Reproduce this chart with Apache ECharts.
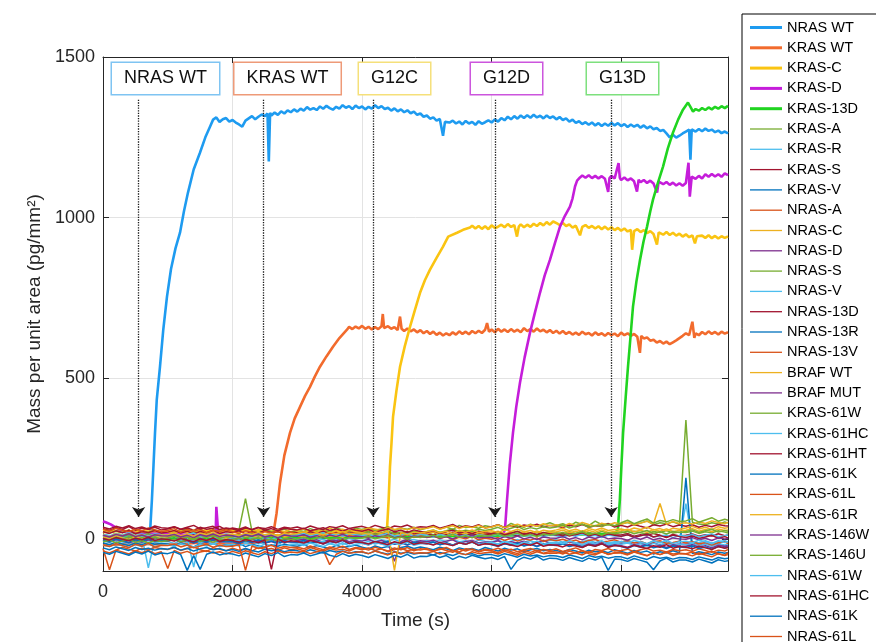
<!DOCTYPE html>
<html><head><meta charset="utf-8">
<script src="https://cdn.jsdelivr.net/npm/echarts@6/dist/echarts.min.js"></script>
<style>html,body{margin:0;padding:0;background:#fff}#c{width:876px;height:642px}</style>
</head><body><div id="c"></div><script>
// ---------------- DATA ----------------
const xTickValues = [0, 2000, 4000, 6000, 8000];
const yTickValues = [0, 500, 1000, 1500];

const mainNames = ['NRAS WT', 'KRAS WT', 'KRAS-C', 'KRAS-D', 'KRAS-13D'];

const nrasWT = [[0,12],[200,5],[400,8],[600,3],[700,6],[725,15],[755,121],[780,230],[803,330],[830,433],[880,536],[930,650],[988,754],[1050,840],[1120,905],[1189,953],[1250,1020],[1312,1078],[1400,1150],[1497,1202],[1580,1250],[1652,1283],
[1700,1305],[1750,1312],[1800,1298],[1850,1306],[1900,1310],[1950,1299],[2000,1304],[2050,1296],[2100,1290],[2150,1283],[2200,1302],[2250,1309],[2300,1316],[2350,1306],[2400,1314],[2450,1321],[2500,1316],[2540,1324],[2560,1175],[2580,1326],[2600,1318],[2650,1327],[2700,1320],[2750,1331],[2800,1324],[2850,1334],[2900,1328],[2950,1337],[3000,1330],[3050,1339],[3100,1333],[3150,1344],[3200,1336],[3250,1341],[3300,1335],[3350,1346],[3400,1339],[3450,1348],[3500,1341],[3550,1336],[3600,1345],[3650,1339],[3700,1350],[3750,1342],[3800,1347],[3850,1338],[3900,1349],[3950,1341],[4000,1346],[4050,1337],[4100,1345],[4150,1339],[4200,1350],[4250,1341],[4300,1347],[4350,1338],[4400,1342],[4450,1333],[4500,1340],[4550,1331],[4600,1337],[4650,1328],[4700,1334],[4750,1325],[4800,1330],[4850,1320],[4900,1324],[4950,1314],[5000,1318],[5050,1308],[5100,1312],[5150,1302],[5200,1307],[5250,1255],[5280,1298],[5300,1304],[5350,1296],[5400,1302],[5450,1293],[5500,1299],[5550,1290],[5600,1301],[5650,1293],[5700,1298],[5750,1289],[5800,1300],[5850,1292],[5900,1297],[5950,1303],[6000,1296],[6050,1306],[6100,1299],[6150,1310],[6200,1303],[6250,1314],[6300,1306],[6350,1316],[6400,1308],[6450,1318],[6500,1310],[6550,1319],[6600,1311],[6650,1320],[6700,1312],[6750,1317],[6800,1309],[6850,1318],[6900,1310],[6950,1315],[7000,1306],[7050,1313],[7100,1304],[7150,1309],[7200,1299],[7250,1305],[7300,1295],[7350,1300],[7400,1291],[7450,1297],[7500,1289],[7550,1296],[7600,1287],[7650,1294],[7700,1285],[7750,1293],[7800,1286],[7850,1295],[7900,1287],[7950,1294],[8000,1285],[8050,1291],[8100,1282],[8150,1290],[8200,1283],[8250,1289],[8300,1280],[8350,1287],[8400,1278],[8450,1284],[8500,1275],[8550,1279],[8600,1270],[8650,1273],[8700,1262],[8750,1250],[8800,1258],[8850,1249],[8900,1255],[8950,1262],[9000,1268],[9050,1274],[9070,1180],[9090,1275],[9150,1268],[9200,1276],[9250,1269],[9300,1277],[9350,1270],[9400,1274],[9450,1266],[9500,1271],[9550,1263],[9600,1268],[9650,1262]];

const krasWT = [[0,-20],[500,-15],[1000,-18],[1500,-12],[2000,-15],[2500,-10],[2600,-5],[2625,10],[2680,80],[2733,174],[2800,260],[2887,330],[2960,375],[3042,411],[3120,445],[3196,473],[3270,505],[3350,536],[3450,568],[3551,598],[3650,625],
[3767,651],[3800,660],[3850,653],[3900,661],[3950,655],[4000,663],[4050,654],[4100,660],[4150,652],[4200,659],[4250,653],[4300,662],[4320,700],[4340,656],[4400,662],[4450,654],[4500,659],[4550,650],[4586,692],[4610,654],[4650,647],[4700,655],[4750,646],[4800,652],[4850,643],[4900,650],[4950,640],[5000,647],[5050,638],[5100,645],[5150,635],[5200,642],[5250,633],[5300,640],[5350,634],[5400,643],[5450,636],[5500,646],[5550,638],[5600,645],[5650,637],[5700,647],[5750,640],[5800,648],[5850,641],[5900,651],[5930,672],[5960,645],[6000,652],[6050,643],[6100,654],[6150,645],[6200,652],[6250,644],[6300,653],[6350,645],[6400,651],[6450,643],[6500,656],[6550,647],[6600,653],[6650,645],[6700,655],[6750,646],[6800,651],[6850,643],[6900,650],[6950,641],[7000,648],[7050,639],[7100,647],[7150,638],[7200,644],[7250,636],[7300,642],[7350,635],[7400,645],[7450,637],[7500,641],[7550,633],[7600,643],[7650,635],[7700,640],[7750,632],[7800,641],[7850,634],[7900,639],[7950,631],[8000,642],[8050,634],[8100,640],[8150,632],[8200,638],[8250,629],[8290,579],[8310,632],[8350,624],[8400,627],[8450,617],[8500,620],[8550,611],[8600,616],[8650,608],[8700,614],[8750,606],[8800,612],[8850,618],[8900,625],[8950,632],[9000,640],[9050,634],[9100,676],[9130,626],[9150,640],[9200,634],[9250,644],[9300,637],[9350,646],[9400,638],[9450,644],[9500,636],[9550,645],[9600,639],[9650,643]];

const krasC = [[0,25],[1000,22],[2000,28],[3000,20],[4000,25],[4300,28],[4385,30],[4410,120],[4431,224],[4455,300],[4478,380],[4530,460],[4586,536],[4660,600],[4740,660],[4820,715],[4895,766],[4970,805],[5049,838],[5150,875],[5250,910],[5330,941],[5350,935],[5466,953],[5560,962],
[5667,969],[5700,975],[5750,966],[5800,974],[5850,965],[5900,973],[5950,964],[6000,976],[6050,968],[6083,970],[6150,978],[6200,970],[6250,980],[6300,971],[6350,977],[6392,941],[6420,972],[6450,979],[6500,970],[6550,978],[6600,971],[6650,981],[6700,974],[6750,983],[6800,976],[6850,986],[6900,978],[6950,988],[7010,982],[7050,977],[7100,983],[7150,974],[7200,979],[7250,969],[7300,975],[7365,945],[7400,971],[7450,977],[7500,968],[7550,974],[7600,966],[7650,973],[7700,964],[7750,972],[7800,963],[7850,970],[7900,961],[7950,968],[8000,959],[8050,966],[8100,957],[8150,962],[8170,900],[8200,958],[8250,964],[8300,955],[8350,961],[8400,952],[8450,958],[8500,949],[8553,916],[8580,954],[8650,947],[8700,955],[8750,946],[8800,953],[8850,944],[8900,950],[8950,941],[9000,948],[9050,939],[9100,945],[9140,920],[9170,942],[9200,936],[9250,944],[9300,937],[9350,945],[9400,936],[9450,943],[9500,935],[9550,942],[9600,937],[9650,941]];

const krasD = [[0,55],[60,50],[120,45],[200,35],[300,25],[500,18],[1000,15],[1500,12],[1740,14],[1750,100],[1760,95],[1780,14],[2000,10],[3000,12],[4000,15],[5000,10],[6000,12],[6180,15],[6207,30],[6238,121],[6280,230],[6330,330],[6380,410],[6438,486],[6510,565],[6593,642],[6670,705],[6747,766],[6820,820],[6902,869],[6980,922],[7056,972],[7130,1005],[7210,1034],[7250,1060],[7288,1097],[7320,1115],
[7365,1125],[7400,1131],[7450,1124],[7500,1132],[7550,1123],[7600,1130],[7650,1122],[7700,1129],[7750,1121],[7800,1080],[7820,1123],[7850,1130],[7900,1122],[7960,1170],[7980,1124],[8000,1117],[8050,1125],[8100,1116],[8150,1122],[8200,1113],[8245,1081],[8270,1118],[8300,1110],[8350,1117],[8400,1108],[8450,1115],[8500,1106],[8555,1078],[8580,1112],[8650,1104],[8700,1111],[8750,1102],[8800,1109],[8850,1100],[8900,1107],[8950,1099],[9000,1108],[9040,1171],[9060,1065],[9090,1128],[9150,1121],[9200,1130],[9250,1122],[9300,1135],[9350,1127],[9400,1136],[9450,1128],[9500,1135],[9550,1127],[9600,1138],[9650,1132]];

const kras13D = [[0,5],[2000,0],[4000,5],[6000,10],[7900,15],[7950,30],[7980,121],[8005,230],[8030,330],[8070,440],[8106,536],[8145,630],[8183,723],[8235,800],[8292,869],[8345,925],[8400,972],[8450,1020],[8492,1056],[8570,1110],[8647,1159],[8720,1215],[8801,1265],[8880,1305],[8955,1336],[9032,1358],[9070,1345],[9110,1330],[9150,1338],[9200,1333],[9250,1341],[9300,1335],[9350,1343],[9400,1337],[9450,1345],[9500,1339],[9550,1347],[9600,1341],[9650,1348]];

const sampleTimes = [0,100,200,300,400,500,600,700,800,900,1000,1100,1200,1300,1400,1500,1600,1700,1800,1900,2000,2100,2200,2300,2400,2500,2600,2700,2800,2900,3000,3100,3200,3300,3400,3500,3600,3700,3800,3900,4000,4100,4200,4300,4400,4500,4600,4700,4800,4900,5000,5100,5200,5300,5400,5500,5600,5700,5800,5900,6000,6100,6200,6300,6400,6500,6600,6700,6800,6900,7000,7100,7200,7300,7400,7500,7600,7700,7800,7900,8000,8100,8200,8300,8400,8500,8600,8700,8800,8900,9000,9100,9200,9300,9400,9500,9600,9650];

const baselineNames = ['KRAS-A','KRAS-R','KRAS-S','KRAS-V','NRAS-A','NRAS-C','NRAS-D','NRAS-S','NRAS-V','NRAS-13D','NRAS-13R','NRAS-13V','BRAF WT','BRAF MUT','KRAS-61W','KRAS-61HC','KRAS-61HT','KRAS-61K','KRAS-61L','KRAS-61R','KRAS-146W','KRAS-146U','NRAS-61W','NRAS-61HC','NRAS-61K','NRAS-61L'];

const krasA = [22,18,25,20,27,15,24,19,28,21, 23,17,26,30,19,24,12,27,22,25, 20,28,125,24,18,29,22,26,31,20, 27,23,32,25,30,21,34,28,24,33, 29,35,26,31,38,27,33,30,36,28, 34,40,31,37,29,42,35,38,33,41, 37,44,35,48,40,36,46,39,43,50, 42,47,39,52,45,41,55,44,48,40, 46,51,43,49,56,44,50,47,53,45, 370,52,46,44,50,46,53,49];
const krasR = [8,2,10,4,6,1,9,-90,-2,7, 3,9,-1,6,-88,2,8,0,5,-3, 4,-2,7,1,-5,3,-1,6,-4,2, -3,3,-6,1,-2,-8,0,-5,2,-4, -6,0,-9,-3,-7,-1,-10,-4,-2,-8, -5,-11,-3,-8,-1,-9,-6,-12,-4,-7, -9,-4,-12,-7,-2,-10,-6,-13,-8,-5, -3,-10,-6,-14,-8,-4,-11,-7,-12,-9, -10,-5,-13,-8,-15,-6,-11,-9,-14,-7, 110,-8,-12,-6,-13,-9,-5,-10];
const krasS = [32,26,35,29,38,27,33,30,36,28, 31,37,29,34,27,36,30,33,39,28, 34,30,37,28,35,32,38,29,36,33, 37,31,40,34,29,38,35,41,32,36, 39,33,42,36,31,40,37,43,34,38, 36,42,33,39,45,35,41,37,44,34, 38,44,35,41,36,43,39,46,37,42, 40,35,43,38,45,36,41,39,47,37, 42,37,45,39,34,44,40,46,38,43, 39,44,36,42,38,45,41,40];
const krasV = [-12,-18,-10,-16,-21,-13,-19,-11,-17,-14, -16,-22,-13,-19,-25,-15,-20,-14,-23,-18, -20,-14,-24,-17,-22,-27,-18,-23,-16,-21, -23,-18,-27,-21,-25,-30,-20,-26,-24,-19, -26,-31,-22,-28,-24,-33,-27,-23,-30,-25, -29,-34,-26,-31,-37,-28,-33,-30,-36,-27, -32,-38,-29,-35,-31,-40,-34,-30,-37,-33, -36,-41,-33,-38,-44,-35,-40,-37,-43,-34, -39,-45,-36,-42,-38,-47,-40,-44,-37,-43, 190,-46,-40,-44,-49,-41,-45,-42];
const nrasA = [-30,-96,-35,-26,-32,-38,-29,-34,-27,-31, -33,-27,-36,-30,-25,-34,-39,-28,-32,-37, -29,-35,-31,-38,-26,-33,-30,-36,-28,-34, -31,-37,-27,-33,-39,-30,-35,-32,-38,-29, -34,-28,-36,-31,-40,-33,-29,-37,-32,-35, -30,-38,-33,-27,-36,-41,-31,-34,-39,-32, -35,-29,-37,-32,-40,-34,-30,-38,-33,-36, -31,-39,-34,-28,-37,-42,-33,-36,-30,-38, -36,-32,-40,-34,-29,-38,-35,-41,-33,-37, -34,-39,-31,-36,-42,-35,-38,-33];
const nrasC = [18,24,15,21,27,17,23,19,26,20, 22,16,25,19,28,21,17,24,20,27, 23,18,26,21,29,24,19,27,22,30, 25,31,22,28,24,33,26,30,23,29, 27,34,30,25,36,29,33,28,35,31, 33,38,30,36,41,32,39,35,42,34, 37,43,35,40,46,38,44,39,47,41, 44,39,48,42,51,45,40,49,43,50, 46,52,44,49,55,47,110,45,54,48, 50,46,53,48,56,51,47,52];
const nrasD = [2,-4,5,-1,3,-6,1,-3,4,-2, 0,-5,3,-2,-7,1,-4,2,-6,-1, -3,2,-6,-1,-8,0,-4,-9,-2,1, -5,-1,-8,-3,-10,-2,-6,0,-9,-4, -7,-2,-10,-5,-12,-70,-8,-1,-11,-6, -9,-4,-12,-7,-3,-14,-8,-5,-13,-10, -11,-6,-15,-9,-13,-7,-16,-10,-5,-14, -12,-17,-9,-15,-11,-18,-13,-8,-16,-14, -15,-10,-19,-13,-17,-12,-20,-14,-18,-16, -17,-13,-21,-15,-19,-14,-22,-18];
const nrasS = [12,6,15,9,13,4,11,16,8,14, 10,15,7,12,18,9,14,6,13,11, 8,14,11,17,9,13,16,10,15,12, 14,9,16,12,18,11,15,20,13,17, 15,11,18,13,20,16,12,19,14,17, 18,13,21,16,12,19,15,22,17,14, 16,21,14,19,24,17,13,20,18,23, 19,15,22,17,25,20,16,23,18,21, 22,17,24,19,15,23,20,26,18,21, 20,24,17,22,19,25,21,18];
const nrasV = [-6,-12,-4,-10,-15,-7,-13,-5,-11,-9, -8,-14,-6,-11,-3,-13,-9,-16,-7,-12, -10,-5,-13,-8,-15,-11,-6,-14,-9,-12, -11,-16,-8,-13,-7,-15,-10,-17,-12,-9, -13,-8,-16,-11,-18,-10,-14,-7,-15,-12, -14,-9,-17,-12,-19,-11,-15,-8,-16,-13, -12,-18,-10,-15,-20,-13,-17,-11,-19,-14, -16,-11,-19,-14,-21,-12,-17,-15,-20,-13, -17,-13,-20,-15,-22,-14,-18,-12,-21,-16, -18,-14,-21,-16,-23,-15,-19,-17];
const nras13D = [22,17,25,19,27,16,23,20,26,18, 21,26,18,24,15,23,19,27,17,22, 20,25,16,22,18,26,19,23,15,21, 19,14,22,17,24,16,20,13,21,18, 17,22,14,19,12,21,16,23,15,18, 16,12,19,14,21,13,17,10,18,15, 14,19,11,16,9,18,13,20,12,15, 13,9,16,11,18,10,14,7,15,12, 12,16,8,13,10,17,11,6,14,9, 11,15,8,13,9,16,10,12];
const nras13R = [-28,-34,-25,-31,-36,-27,-33,-29,-35,-30, -32,-26,-35,-29,-38,-31,-27,-34,-30,-37, -33,-39,-30,-36,-41,-32,-37,-34,-40,-35, -37,-42,-34,-39,-44,-36,-41,-38,-45,-40, -41,-46,-38,-43,-48,-40,-45,-42,-47,-44, -45,-50,-42,-47,-52,-44,-49,-46,-53,-48, -49,-54,-46,-51,-57,-48,-53,-50,-56,-52, -53,-58,-50,-55,-61,-52,-57,-54,-60,-56, -56,-62,-53,-59,-64,-55,-60,-57,-63,-58, -59,-64,-56,-61,-66,-58,-62,-60];
const nras13V = [30,24,33,27,22,31,25,34,28,23, 26,32,21,29,24,30,19,27,23,28, 22,17,25,20,14,23,18,26,16,21, 15,20,12,18,9,16,13,19,10,14, 11,6,14,8,3,12,7,15,5,10, 4,9,1,7,-2,5,0,8,-3,3, -1,4,-5,2,-7,0,-4,3,-8,-2, -6,-1,-9,-4,-12,-5,-2,-10,-7,-3, -10,-5,-13,-8,-16,-9,-6,-14,-11,-7, -13,-8,-16,-11,-19,-12,-9,-15];
const brafWT = [6,1,9,3,-1,8,2,10,4,7, 5,11,3,8,0,9,4,12,6,2, 8,13,5,10,3,12,7,14,6,9, 11,6,14,9,16,8,12,5,15,10, 13,18,10,15,8,17,12,19,11,14, 16,21,13,18,11,20,15,22,14,17, 19,24,16,21,14,23,18,25,17,20, 22,27,19,24,17,26,21,28,20,23, 25,30,22,27,20,29,24,31,23,26, 27,32,24,29,22,31,26,28];
const brafMUT = [-4,-9,-2,-7,-12,-5,-10,-3,-8,-6, -7,-2,-10,-5,-13,-6,-11,-4,-9,-8, -9,-14,-6,-11,-4,-13,-8,-15,-7,-10, -11,-6,-14,-9,-16,-8,-12,-5,-15,-10, -13,-18,-10,-15,-8,-17,-12,-19,-11,-14, -15,-10,-18,-13,-20,-12,-16,-9,-19,-14, -17,-22,-14,-19,-12,-21,-16,-23,-15,-18, -19,-14,-22,-17,-24,-16,-20,-13,-23,-18, -21,-26,-18,-23,-16,-25,-20,-27,-19,-22, -23,-18,-26,-21,-28,-20,-24,-22];
const kras61W = [2,-4,5,-1,7,-3,4,0,6,-2, 3,9,1,6,-2,8,4,11,2,7, 6,12,3,9,14,5,10,7,13,8, 11,16,8,13,19,10,15,12,18,14, 17,22,14,19,25,16,21,18,24,20, 23,28,20,25,31,22,27,24,30,26, 30,36,27,33,39,29,35,31,38,34, 37,43,34,40,46,36,42,39,45,41, 50,58,47,55,62,49,57,53,60,54, 56,63,52,59,66,55,61,58];
const kras61HC = [14,9,17,12,19,10,15,8,16,13, 11,16,8,14,18,9,13,17,10,15, 13,8,16,11,18,10,14,7,15,12, 12,17,9,14,19,11,15,8,16,13, 10,15,7,13,17,9,12,16,8,14, 11,6,14,9,16,8,12,5,13,10, 9,14,6,12,16,8,11,15,7,13, 10,5,13,8,15,7,11,4,12,9, 8,13,5,10,14,6,9,12,4,11, 9,14,6,11,15,7,10,12];
const kras61HT = [36,31,39,34,41,32,37,30,40,35, 33,38,30,36,42,31,35,39,29,34, 31,26,34,29,36,27,32,25,33,30, 28,33,25,30,35,26,31,24,32,27, 24,29,21,26,31,22,27,20,28,23, 20,25,17,22,27,18,23,16,24,19, 16,21,13,18,23,14,19,12,20,15, 12,17,9,14,19,10,15,8,16,11, 8,13,5,10,15,6,11,4,12,7, 4,9,1,6,11,2,7,3];
const kras61K = [-3,-9,0,-6,-11,-2,-8,1,-7,-4, -6,-1,-9,-4,-12,-5,-10,-2,-8,-7, -8,-13,-5,-10,-3,-12,-7,-14,-6,-9, -10,-5,-13,-8,-15,-7,-11,-4,-14,-9, -12,-17,-9,-14,-7,-16,-11,-18,-10,-13, -15,-10,-18,-13,-20,-12,-16,-9,-19,-14, -18,-23,-15,-20,-13,-22,-17,-24,-16,-19, -21,-16,-24,-19,-26,-18,-22,-15,-25,-20, -24,-29,-21,-26,-19,-28,-23,-30,-22,-25, -27,-22,-30,-25,-32,-24,-28,-26];
const kras61L = [-38,-44,-35,-41,-47,-37,-43,-36,-46,-40, -92,-36,-45,-39,-48,-41,-37,-44,-40,-47, -39,-45,-37,-43,-49,-40,-46,-38,-44,-41, -43,-38,-46,-40,-35,-80,-48,-39,-45,-42, -40,-46,-38,-44,-50,-41,-47,-39,-45,-43, -44,-39,-47,-42,-36,-45,-49,-40,-46,-43, -41,-47,-39,-45,-51,-42,-48,-40,-46,-44, -45,-40,-48,-43,-37,-46,-50,-41,-47,-44, -42,-48,-40,-46,-52,-43,-49,-41,-47,-45, -46,-41,-49,-44,-38,-47,-51,-43];
const kras61R = [12,7,15,10,17,8,13,6,14,11, 13,18,10,15,8,17,12,19,11,14, 15,10,18,13,20,12,16,9,17,14, 17,22,14,19,12,21,16,23,15,18, 19,14,22,17,24,-98,20,13,21,18, 22,27,19,24,17,26,21,28,20,23, 25,20,28,23,30,22,26,19,27,24, 28,33,25,30,23,32,27,34,26,29, 31,26,34,29,36,28,32,25,33,30, 34,39,31,36,29,38,33,35];
const kras146W = [11,6,14,9,16,7,12,5,13,10, 9,14,6,11,4,13,8,15,7,12, 10,5,13,8,15,6,11,3,12,9, 8,13,5,10,3,12,7,14,6,9, 7,2,10,5,12,3,8,1,9,6, 5,10,2,7,0,9,4,11,3,6, 4,-1,7,2,9,0,5,-2,6,3, 2,7,-1,4,-3,6,1,8,0,3, 1,-4,4,-1,6,-3,2,-5,3,0, -1,4,-3,2,-5,3,0,1];
const kras146U = [-9,-4,-12,-7,-2,-11,-6,-13,-5,-8, -6,-1,-9,-4,1,-8,-3,-10,-2,-5, -3,2,-6,-1,4,-5,0,-7,1,-2, 0,5,-3,2,7,-2,3,-4,4,1, 3,8,0,5,10,1,6,-1,7,4, 7,12,4,9,14,5,10,3,11,8, 11,16,8,13,18,9,14,7,15,12, 15,20,12,17,22,13,18,11,19,16, 19,24,16,21,26,17,22,15,23,20, 23,28,20,25,30,21,26,24];
const nras61W = [-19,-24,-16,-21,-27,-18,-23,-15,-25,-20, -18,-23,-15,-20,-26,-17,-22,-14,-24,-19, -17,-22,-14,-19,-25,-16,-21,-13,-23,-18, -16,-21,-13,-18,-24,-15,-20,-12,-22,-17, -14,-19,-11,-16,-22,-13,-18,-10,-20,-15, -13,-18,-10,-15,-21,-12,-17,-9,-19,-14, -11,-16,-8,-13,-19,-10,-15,-7,-17,-12, -10,-15,-7,-12,-18,-9,-14,-6,-16,-11, -8,-13,-5,-10,-16,-7,-12,-4,-14,-9, -7,-12,-4,-9,-15,-6,-11,-8];
const nras61HC = [1,-4,4,-1,-6,2,-3,5,-5,0, -2,-7,1,-4,-9,0,-5,3,-8,-3, -5,-10,-2,-7,-12,-3,-95,0,-11,-6, -8,-13,-5,-10,-15,-6,-11,-3,-14,-9, -11,-16,-8,-13,-18,-9,-14,-6,-17,-12, -14,-19,-11,-16,-21,-12,-17,-9,-20,-15, -17,-22,-14,-19,-24,-15,-20,-12,-23,-18, -20,-25,-17,-22,-27,-18,-23,-15,-26,-21, -23,-28,-20,-25,-30,-21,-26,-18,-29,-24, -26,-31,-23,-28,-33,-24,-29,-27];
const nras61K = [-42,-48,-39,-45,-51,-41,-47,-38,-50,-44, -46,-40,-49,-98,-52,-95,-48,-41,-50,-45, -47,-53,-44,-50,-56,-46,-52,-43,-55,-49, -50,-44,-53,-47,-41,-51,-56,-46,-54,-48, -52,-58,-49,-55,-61,-51,-57,-48,-60,-54, -55,-49,-58,-52,-64,-54,-60,-51,-57,-62, -58,-64,-55,-95,-67,-57,-63,-54,-66,-60, -61,-67,-58,-64,-70,-60,-66,-57,-98,-63, -64,-70,-61,-67,-73,-96,-69,-60,-72,-66, -66,-72,-63,-69,-75,-65,-70,-68];
const nras61L = [-18,-24,-15,-21,-27,-17,-23,-14,-26,-20, -21,-16,-25,-19,-28,-22,-17,-26,-20,-24, -23,-18,-98,-22,-30,-25,-20,-29,-24,-27, -26,-31,-22,-28,-34,-25,-30,-23,-33,-27, -29,-35,-26,-32,-38,-28,-34,-27,-37,-31, -33,-39,-30,-36,-42,-32,-38,-31,-41,-35, -37,-43,-34,-40,-46,-36,-42,-35,-45,-39, -41,-47,-38,-44,-50,-40,-46,-39,-49,-43, -44,-50,-41,-47,-53,-43,-49,-42,-52,-46, -47,-53,-44,-50,-56,-46,-52,-49];

const annotationLabels = ['NRAS WT', 'KRAS WT', 'G12C', 'G12D', 'G13D'];
const annotationTimes = [965, 2849, 4501, 6230, 8021];
const annotationLevel = 1433;
const arrowTimes = [550, 2480, 4170, 6050, 7846];
const arrowTop = 1367;
const arrowTip = 68;

// ---------------- STYLE ----------------
const FONT = '"Liberation Sans", Arial, Helvetica, sans-serif';
const TXT = '#262626';
const mainColors = ['#1E9BF0', '#F26B2D', '#FAC412', '#C51DDA', '#20D420'];
const baseColors = ['#77AC30', '#4DBEEE', '#A2142F', '#0072BD', '#D95319', '#EDB120', '#7E2F8E'];
const annotationBorders = ['#7FC4F2', '#EE9A78', '#F5E07A', '#CC55DD', '#7DE07D'];
const thickIcon = 'path://M0,0 L32,0 L32,3 L0,3 Z';
const thinIcon = 'path://M0,0 L32,0 L32,1.3 L0,1.3 Z';

const mainData = [nrasWT, krasWT, krasC, krasD, kras13D];
const baselineValues = [krasA, krasR, krasS, krasV, nrasA, nrasC, nrasD, nrasS, nrasV, nras13D, nras13R, nras13V, brafWT, brafMUT, kras61W, kras61HC, kras61HT, kras61K, kras61L, kras61R, kras146W, kras146U, nras61W, nras61HC, nras61K, nras61L];

const series = [];
mainNames.forEach((name, i) => {
  series.push({
    name, type: 'line', data: mainData[i], symbol: 'none', showSymbol: false,
    lineStyle: { width: 2.6, color: mainColors[i] }, itemStyle: { color: mainColors[i] },
    silent: true, animation: false, emphasis: { disabled: true }
  });
});
baselineNames.forEach((name, i) => {
  const vals = baselineValues[i];
  series.push({
    name, type: 'line', symbol: 'none', showSymbol: false,
    data: sampleTimes.map((t, k) => [t, vals[k]]).filter(p => p[1] !== undefined),
    lineStyle: { width: 1.5, color: baseColors[i % 7] }, itemStyle: { color: baseColors[i % 7] },
    silent: true, animation: false, emphasis: { disabled: true }
  });
});

// annotations (arrows + labelled boxes)
series.push({
  name: '__annot', type: 'line', data: [], symbol: 'none', silent: true, animation: false, z: 10,
  markLine: {
    silent: true, animation: false, symbol: ['none', 'arrow'], symbolSize: 10,
    label: { show: false },
    lineStyle: { type: 'dotted', color: '#1a1a1a', width: 1.3 },
    emphasis: { disabled: true },
    data: arrowTimes.map(t => [{ coord: [t, arrowTop] }, { coord: [t, arrowTip] }])
  },
  markPoint: {
    silent: true, animation: false, symbol: 'rect', symbolSize: 1,
    itemStyle: { color: 'rgba(0,0,0,0)' },
    data: annotationLabels.map((lab, i) => ({
      coord: [annotationTimes[i], annotationLevel], value: lab,
      label: {
        show: true, position: 'inside', formatter: lab, fontSize: 18, fontFamily: FONT, color: '#111',
        backgroundColor: '#fff', borderColor: annotationBorders[i], borderWidth: 1.5, padding: [7, 12, 6, 12]
      }
    }))
  }
});

const chart = echarts.init(document.getElementById('c'), null, { renderer: 'canvas' });
chart.setOption({
  animation: false,
  backgroundColor: '#fff',
  grid: { left: 103, right: 148, top: 57, bottom: 71, containLabel: false },
  legend: {
    orient: 'vertical', left: 742, top: 14, height: 1000,
    padding: [6, 8, 6, 8], itemWidth: 32, itemHeight: 14, itemGap: 5.3,
    borderColor: '#000', borderWidth: 1, backgroundColor: '#fff', selectedMode: false,
    textStyle: { fontSize: 14.5, color: '#000', fontFamily: FONT },
    data: mainNames.concat(baselineNames).map((n, i) => ({ name: n, icon: i < 5 ? thickIcon : thinIcon }))
  },
  xAxis: [{
    type: 'value', min: 0, max: 9650,
    name: 'Time (s)', nameLocation: 'middle', nameGap: 40,
    nameTextStyle: { fontSize: 19, color: TXT, fontFamily: FONT },
    axisLine: { show: true, onZero: false, lineStyle: { color: '#262626', width: 1 } },
    axisTick: { show: true, inside: true, length: 6, customValues: xTickValues, lineStyle: { color: '#262626' } },
    axisLabel: { customValues: xTickValues, fontSize: 18, color: TXT, fontFamily: FONT, margin: 12, formatter: v => String(v) },
    splitLine: { show: true, lineStyle: { color: '#E3E3E3', width: 1 } }
  }, {
    type: 'value', min: 0, max: 9650, position: 'top',
    axisLine: { show: true, onZero: false, lineStyle: { color: '#262626', width: 1 } },
    axisTick: { show: true, inside: true, length: 6, customValues: xTickValues, lineStyle: { color: '#262626' } },
    axisLabel: { show: false }, splitLine: { show: false }
  }],
  yAxis: [{
    type: 'value', min: -100, max: 1500,
    name: 'Mass per unit area (pg/mm²)', nameLocation: 'middle', nameGap: 57,
    nameTextStyle: { fontSize: 19, color: TXT, fontFamily: FONT },
    axisLine: { show: true, onZero: false, lineStyle: { color: '#262626', width: 1 } },
    axisTick: { show: true, inside: true, length: 6, customValues: yTickValues, lineStyle: { color: '#262626' } },
    axisLabel: { customValues: yTickValues, fontSize: 18, color: TXT, fontFamily: FONT, margin: 8, formatter: v => String(v) },
    splitLine: { show: true, lineStyle: { color: '#E3E3E3', width: 1 } }
  }, {
    type: 'value', min: -100, max: 1500, position: 'right',
    axisLine: { show: true, onZero: false, lineStyle: { color: '#262626', width: 1 } },
    axisTick: { show: true, inside: true, length: 6, customValues: yTickValues, lineStyle: { color: '#262626' } },
    axisLabel: { show: false }, splitLine: { show: false }
  }],
  series
});
</script></body></html>
